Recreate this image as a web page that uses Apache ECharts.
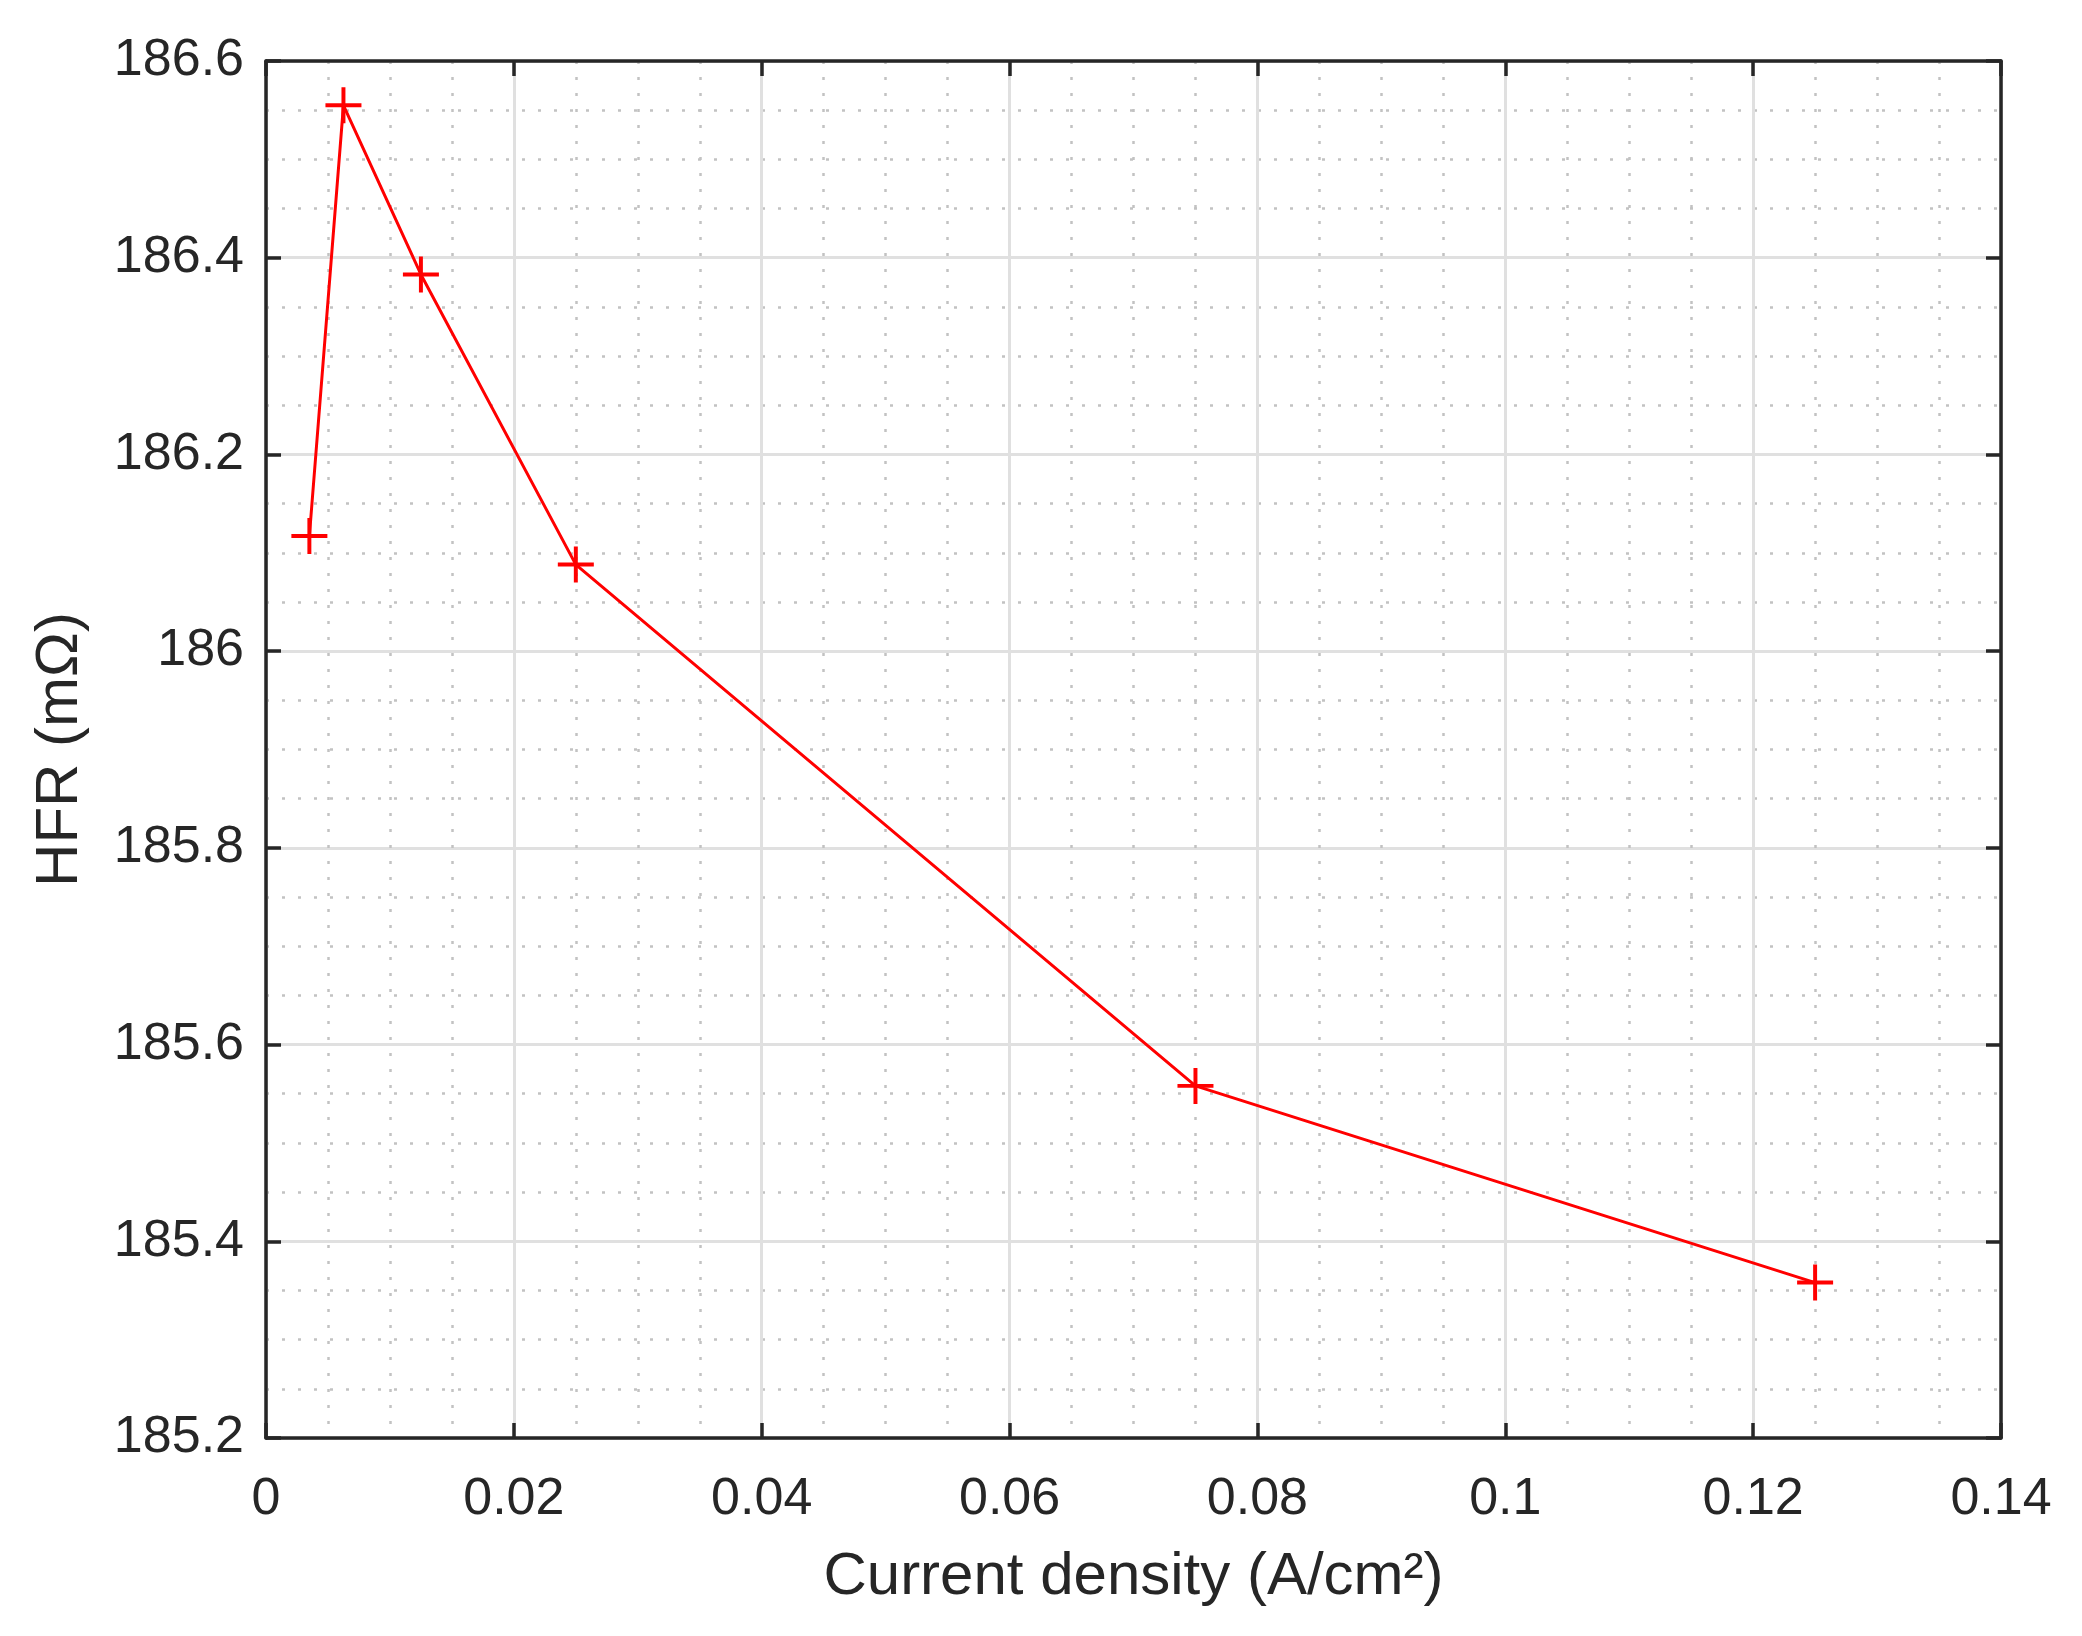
<!DOCTYPE html>
<html>
<head>
<meta charset="utf-8">
<script src="https://cdn.jsdelivr.net/npm/echarts@6/dist/echarts.min.js"></script>
<style>html,body{margin:0;padding:0;background:#fff}#c{width:2082px;height:1636px}</style>
</head>
<body>
<div id="c"></div>
<script>
const currentDensity = [0.0035, 0.00625, 0.0125, 0.025, 0.075, 0.125];
const hfr = [186.117, 186.555, 186.383, 186.088, 185.558, 185.358];
const xTitle = 'Current density (A/cm²)';
const yTitle = 'HFR (mΩ)';
const xMin = 0, xMax = 0.14, xStep = 0.02;
const yMin = 185.2, yMax = 186.6, yStep = 0.2;

const txt = '#262626';
const font = 'Liberation Sans, Arial, Helvetica, sans-serif';
const chart = echarts.init(document.getElementById('c'));
const plus = 'path://M-0.11,-1 L0.11,-1 L0.11,-0.11 L1,-0.11 L1,0.11 L0.11,0.11 L0.11,1 L-0.11,1 L-0.11,0.11 L-1,0.11 L-1,-0.11 L-0.11,-0.11 Z';

function mainAxisCommon(){
  return {
    axisLine:{show:true,onZero:false,lineStyle:{color:txt,width:3.5}},
    axisTick:{show:true,inside:true,length:15,lineStyle:{color:txt,width:3.5}},
    minorTick:{show:false,splitNumber:4},
    splitLine:{show:true,lineStyle:{color:'#e0e0e0',width:3}},
    minorSplitLine:{show:true,lineStyle:{color:'#c2c2c2',width:2.5,type:[3,13]}}
  };
}
chart.setOption({
  animation:false,
  backgroundColor:'#fff',
  grid:{left:266,right:81,top:61,bottom:198,containLabel:false},
  xAxis:[
    Object.assign({type:'value',min:xMin,max:xMax,interval:xStep,position:'bottom',
      name:xTitle,nameLocation:'middle',nameGap:109,
      nameTextStyle:{color:txt,fontSize:60,fontFamily:font},
      axisLabel:{color:txt,fontSize:52,fontFamily:font,margin:36,
        formatter:v=>String(parseFloat(v.toFixed(2)))}}, mainAxisCommon()),
    {type:'value',min:xMin,max:xMax,interval:xStep,position:'top',
      axisLine:{show:true,onZero:false,lineStyle:{color:txt,width:3.5}},
      axisTick:{show:true,inside:true,length:15,lineStyle:{color:txt,width:3.5}},
      axisLabel:{show:false},splitLine:{show:false}}
  ],
  yAxis:[
    Object.assign({type:'value',min:yMin,max:yMax,interval:yStep,position:'left',
      name:yTitle,nameLocation:'middle',nameGap:176,nameRotate:90,
      nameTextStyle:{color:txt,fontSize:60,fontFamily:font},
      axisLabel:{color:txt,fontSize:52,fontFamily:font,margin:22,
        formatter:v=>String(parseFloat(v.toFixed(1)))}}, mainAxisCommon()),
    {type:'value',min:yMin,max:yMax,interval:yStep,position:'right',
      axisLine:{show:true,onZero:false,lineStyle:{color:txt,width:3.5}},
      axisTick:{show:true,inside:true,length:15,lineStyle:{color:txt,width:3.5}},
      axisLabel:{show:false},splitLine:{show:false}}
  ],
  series:[{
    type:'line',
    xAxisIndex:0,yAxisIndex:0,
    data:currentDensity.map((x,i)=>[x,hfr[i]]),
    symbol:plus,symbolSize:36,
    showAllSymbol:true,
    lineStyle:{color:'#ff0000',width:3},
    itemStyle:{color:'#ff0000'},
    z:5
  }]
});
</script>
</body>
</html>
